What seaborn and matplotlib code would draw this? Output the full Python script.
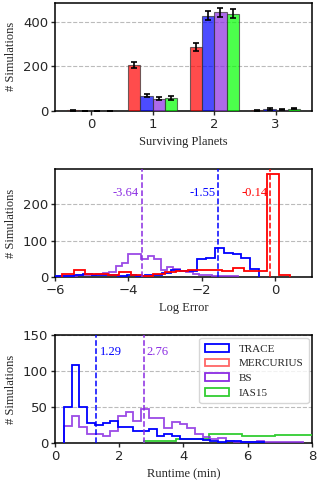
import numpy as np
import pandas as pd
import matplotlib
matplotlib.use("Agg")
import matplotlib.pyplot as plt
import seaborn as sns
from matplotlib.patches import Patch

sns.set_style("ticks")
plt.rcParams['font.family'] = ['DejaVu Sans']

methods = ['MERCURIUS', 'TRACE', 'BS', 'IAS15']
bar_colors = ['red', 'blue', 'blueviolet', 'lime']
planets = [0, 1, 2, 3]

# surviving planets counts + errors (per method, per planet count)
surv_counts = {
    'MERCURIUS': [3, 207, 287, 2],
    'TRACE': [0, 68, 427, 8],
    'BS': [0, 55, 442, 5],
    'IAS15': [0, 57, 436, 10],
}
surv_errs = {
    'MERCURIUS': [2, 14, 17, 1],
    'TRACE': [0, 8, 21, 3],
    'BS': [0, 7, 21, 2],
    'IAS15': [0, 8, 21, 3],
}

# log error histograms
err_red_edges = np.arange(21) * 0.31 - 5.8
err_red = [8, 19, 8, 9, 6, 12, 4, 3, 7, 13, 17, 20, 19, 18, 15, 24, 17, 16, 282, 5]
err_blue_edges = np.arange(24) * 0.24 - 5.96
err_blue = [2, 3, 4, 8, 6, 5, 4, 3, 4, 3, 4, 6, 10, 20, 17, 15, 49, 51, 79, 66, 64, 53, 21]
err_purple_edges = np.arange(29) * 0.175 - 5.925
err_purple = [2, 3, 2, 4, 5, 5, 8, 10, 12, 29, 37, 64, 62, 50, 58, 48, 20, 26, 22, 17,
              14, 8, 5, 4, 3, 2, 1, 1]
err_medians = {'BS': -3.64, 'TRACE': -1.55, 'MERCURIUS': -0.14}

# runtime histograms
rt_blue_edges = np.arange(27) * 0.24 + 0.28
rt_blue = [50, 108, 50, 28, 25, 28, 30, 22, 22, 17, 17, 19, 9, 13, 10, 5, 6, 6, 4, 2,
           1, 2, 3, 1, 1, 1]
rt_purple_edges = np.arange(32) * 0.24 + 0.28
rt_purple = [23, 37, 22, 12, 12, 10, 17, 38, 43, 31, 47, 35, 35, 21, 29, 26, 21, 12, 8, 6,
             7, 3, 1, 1, 1, 3, 1, 1, 1, 1, 1]
rt_green_edges = np.arange(7) * 1.02 + 2.76
rt_green = [3, 6, 12, 10, 11, 11]
rt_medians = {'TRACE': 1.29, 'BS': 2.76}

line_colors = {'TRACE': 'blue', 'MERCURIUS': 'red', 'BS': 'blueviolet', 'IAS15': 'limegreen'}

serif = ['Liberation Serif', 'DejaVu Serif']
fs = 9.5
lfs = 9

fig = plt.figure(figsize=(3.18, 4.84), dpi=100)
ax1 = fig.add_axes([0.173, 0.771, 0.808, 0.223])
ax2 = fig.add_axes([0.173, 0.428, 0.808, 0.223])
ax3 = fig.add_axes([0.173, 0.085, 0.808, 0.223])

# --- panel 1: surviving planets
rows = []
for m in methods:
    for p, c in zip(planets, surv_counts[m]):
        rows.append({'planets': p, 'method': m, 'count': c})
df = pd.DataFrame(rows)
sns.barplot(data=df, x='planets', y='count', hue='method', hue_order=methods,
            palette=bar_colors, saturation=1, alpha=0.7, edgecolor='#333333', linewidth=0.8,
            errorbar=None, legend=False, ax=ax1, zorder=3)
for cont, m in zip(ax1.containers, methods):
    xs = [b.get_x() + b.get_width() / 2 for b in cont]
    ax1.errorbar(xs, surv_counts[m], yerr=surv_errs[m], fmt='none', ecolor='black',
                 elinewidth=1.2, capsize=2.5, capthick=1.2, zorder=4)
ax1.set_ylim(0, 485)
ax1.set_yticks([0, 200, 400])
ax1.set_xlabel('Surviving Planets', family=serif, fontsize=lfs)
ax1.set_ylabel('# Simulations', family=serif, fontsize=lfs)

# --- panel 2: log error
ax2.stairs(err_purple, err_purple_edges, color='blueviolet', lw=1.3, alpha=0.85, zorder=3)
ax2.stairs(err_blue, err_blue_edges, color='blue', lw=1.3, zorder=3)
ax2.stairs(err_red, err_red_edges, color='red', lw=1.3, zorder=3)
for m, v in err_medians.items():
    ax2.axvline(v, color=line_colors[m], ls='--', lw=1.1, zorder=4)
    ax2.text(v - 0.08, 231, f'{v:.2f}', color=line_colors[m], ha='right', va='center',
             family=serif, fontsize=lfs)
ax2.set_xlim(-6, 1)
ax2.set_ylim(0, 297)
ax2.set_yticks([0, 100, 200])
ax2.set_xticks([-6, -4, -2, 0])
ax2.set_xlabel('Log Error', family=serif, fontsize=lfs)
ax2.set_ylabel('# Simulations', family=serif, fontsize=lfs)

# --- panel 3: runtime
ax3.stairs(rt_green, rt_green_edges, color='limegreen', lw=1.3, zorder=3)
ax3.stairs(rt_purple, rt_purple_edges, color='blueviolet', lw=1.3, alpha=0.85, zorder=3)
ax3.stairs(rt_blue, rt_blue_edges, color='blue', lw=1.3, zorder=3)
for m, v in rt_medians.items():
    ax3.axvline(v, color=line_colors[m], ls='--', lw=1.1, zorder=4)
    ax3.text(v + 0.1, 126, f'{v:.2f}', color=line_colors[m], ha='left', va='center',
             family=serif, fontsize=lfs)
ax3.set_xlim(0, 8)
ax3.set_ylim(0, 150)
ax3.set_yticks([0, 50, 100, 150])
ax3.set_xticks([0, 2, 4, 6, 8])
ax3.set_xlabel('Runtime (min)', family=serif, fontsize=lfs)
ax3.set_ylabel('# Simulations', family=serif, fontsize=lfs)
handles = [Patch(facecolor='none', edgecolor='blue', lw=1.3, label='TRACE'),
           Patch(facecolor='none', edgecolor='red', lw=1.3, alpha=0.6, label='MERCURIUS'),
           Patch(facecolor='none', edgecolor='blueviolet', lw=1.3, label='BS'),
           Patch(facecolor='none', edgecolor='limegreen', lw=1.3, label='IAS15')]
ax3.legend(handles=handles, loc='upper right', prop={'family': serif, 'size': 8},
           handlelength=2.2, borderpad=0.5, labelspacing=0.45, borderaxespad=0.3)

for ax in (ax1, ax2, ax3):
    ax.grid(axis='y', ls='--', color='#bbbbbb', lw=0.8, zorder=0)
    ax.set_axisbelow(True)
    ax.tick_params(labelsize=fs, length=3, width=1, pad=2)
    for s in ax.spines.values():
        s.set_visible(True)
        s.set_color('black')
        s.set_linewidth(1.1)

fig.savefig('out.png', dpi=100)
